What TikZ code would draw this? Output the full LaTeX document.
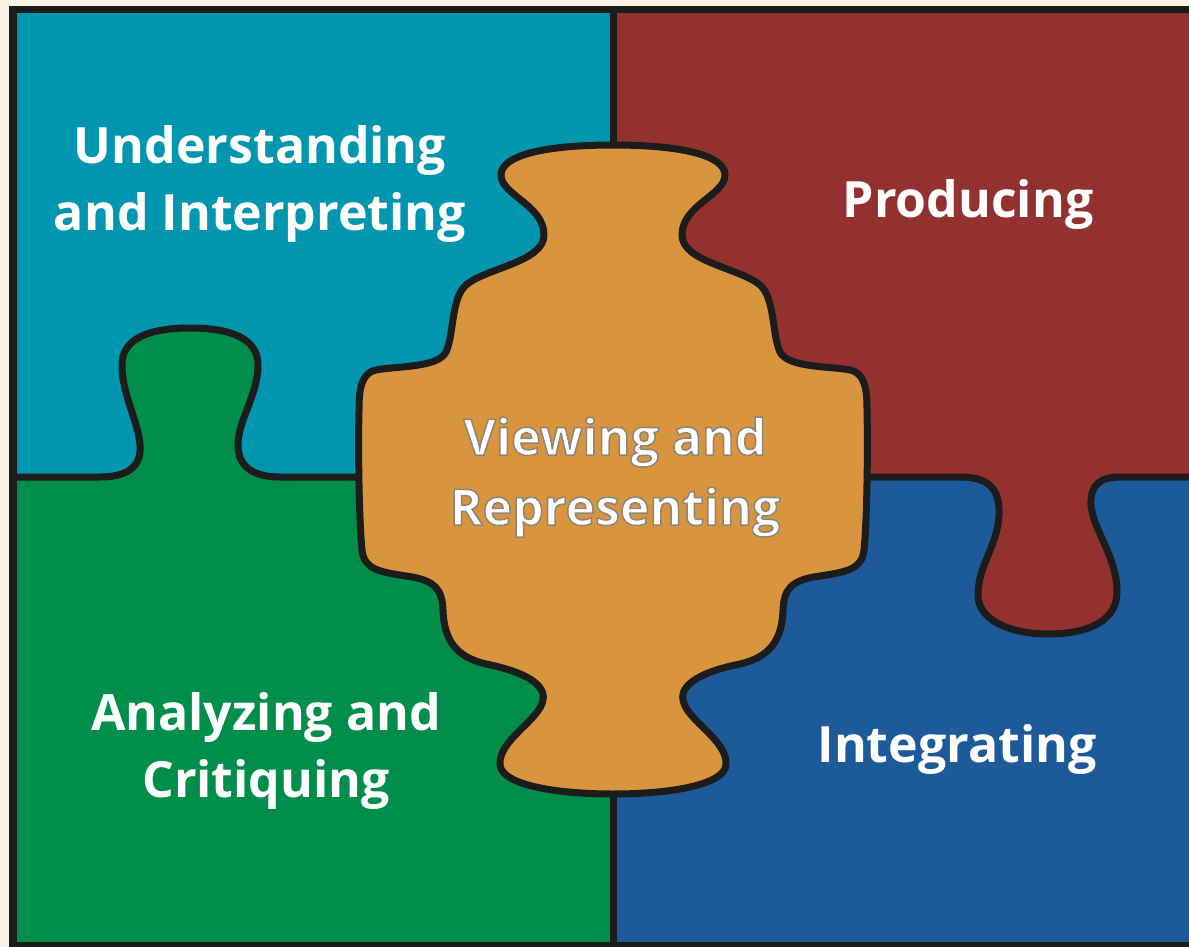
\documentclass[tikz,border=0pt]{standalone}
\usepackage{fontspec}
\setmainfont{Open Sans}
% stroked variant of the bold face, used for the centre label's grey edge
\newfontfamily\edgefont{Open Sans}[BoldFeatures={FakeBold=3}]
\newcommand\greyedge{\special{pdf:literal direct 0.55 0.52 0.48 RG}}
\definecolor{cream}{HTML}{FDF3E3}
\definecolor{ink}{HTML}{1C1C1C}
\definecolor{tealq}{HTML}{0096B0}
\definecolor{redq}{HTML}{93312F}
\definecolor{greenq}{HTML}{008E4A}
\definecolor{blueq}{HTML}{1C5A9A}
\definecolor{orangeq}{HTML}{D8953D}
\begin{document}
\begin{tikzpicture}[x=1pt,y=-1pt,
  edge/.style={draw=ink,line width=7pt,line join=round},
  label/.style={text=white,font=\bfseries\fontsize{50}{67}\selectfont,align=center,inner sep=0pt}]
\useasboundingbox (0,0) rectangle (1189,947);
% background and outer frame
\fill[cream] (0,0) rectangle (1189,947);
\fill[ink] (9,6) rectangle (1189,947);
% four quadrants
\fill[tealq] (17,13) rectangle (613,477);
\fill[redq] (613,13) rectangle (1189,477);
\fill[greenq] (17,477) rectangle (613,942);
\fill[blueq] (613,477) rectangle (1189,942);
% green tab reaching up into the teal quadrant
\fill[greenq] (100,477) .. controls (125,477) and (142,468) .. (140,445)
  .. controls (138,420) and (122,395) .. (122,365)
  .. controls (122,338) and (150,328) .. (190,328)
  .. controls (230,328) and (258,338) .. (258,365)
  .. controls (258,395) and (238,420) .. (238,445)
  .. controls (238,468) and (255,477) .. (280,477) -- cycle;
% red tab reaching down into the blue quadrant
\fill[redq] (960,477) .. controls (990,477) and (1000,490) .. (999,515)
  .. controls (998,545) and (978,565) .. (978,595)
  .. controls (978,620) and (1010,634) .. (1048,634)
  .. controls (1090,634) and (1118,620) .. (1117,590)
  .. controls (1116,555) and (1093,530) .. (1091,505)
  .. controls (1090,485) and (1100,477) .. (1120,477) -- cycle;
% dividing lines
\coordinate (vtop) at (613,13);
\coordinate (vbot) at (613,942);
\draw[edge] (vtop) -- (vbot);
\coordinate (hl) at (17,477);
\coordinate (hlm) at (380,477);
\draw[edge] (hl) -- (100,477) .. controls (125,477) and (142,468) .. (140,445)
  .. controls (138,420) and (122,395) .. (122,365)
  .. controls (122,338) and (150,328) .. (190,328)
  .. controls (230,328) and (258,338) .. (258,365)
  .. controls (258,395) and (238,420) .. (238,445)
  .. controls (238,468) and (255,477) .. (280,477) -- (hlm);
\coordinate (hrm) at (850,477);
\coordinate (hr) at (1189,477);
\draw[edge] (hrm) -- (960,477) .. controls (990,477) and (1000,490) .. (999,515)
  .. controls (998,545) and (978,565) .. (978,595)
  .. controls (978,620) and (1010,634) .. (1048,634)
  .. controls (1090,634) and (1118,620) .. (1117,590)
  .. controls (1116,555) and (1093,530) .. (1091,505)
  .. controls (1090,485) and (1100,477) .. (1120,477) -- (hr);
% central piece
\filldraw[edge,fill=orangeq] (613,145)
  .. controls (680,145) and (725,155) .. (725,175)
  .. controls (725,195) and (682,205) .. (682,235)
  .. controls (682,262) and (740,268) .. (760,285)
  .. controls (775,298) and (772,335) .. (780,352)
  .. controls (788,368) and (830,366) .. (850,370)
  .. controls (865,373) and (867,390) .. (867,410)
  .. controls (868,450) and (867,520) .. (864,550)
  .. controls (862,570) and (845,572) .. (820,576)
  .. controls (790,580) and (784,590) .. (783,610)
  .. controls (782,640) and (770,657) .. (740,664)
  .. controls (700,672) and (680,685) .. (683,700)
  .. controls (686,720) and (728,740) .. (726,765)
  .. controls (724,785) and (670,794) .. (613,794)
  .. controls (556,794) and (502,785) .. (500,765)
  .. controls (498,740) and (540,720) .. (543,700)
  .. controls (546,685) and (526,672) .. (486,664)
  .. controls (456,657) and (444,640) .. (443,610)
  .. controls (442,590) and (436,580) .. (406,576)
  .. controls (381,572) and (364,570) .. (362,550)
  .. controls (359,520) and (358,450) .. (359,410)
  .. controls (359,390) and (361,373) .. (376,370)
  .. controls (396,366) and (438,368) .. (446,352)
  .. controls (454,335) and (451,298) .. (466,285)
  .. controls (486,268) and (544,262) .. (544,235)
  .. controls (544,205) and (501,195) .. (501,175)
  .. controls (501,155) and (546,145) .. (613,145) -- cycle;
% labels (anchor base = baseline of the last line)
\node[label,anchor=base] (und) at (260,230) {Understanding\\and Interpreting};
\node[label,anchor=base] (pro) at (968,217) {Producing};
\node[label,anchor=base,font=\edgefont\bfseries\fontsize{50}{70}\selectfont] (vie) at (615,525)
  {\greyedge Viewing and\\\greyedge Representing};
\node[label,anchor=base] (ana) at (266,797) {Analyzing and\\Critiquing};
\node[label,anchor=base] (int) at (957,762) {Integrating};
\end{tikzpicture}
\end{document}
